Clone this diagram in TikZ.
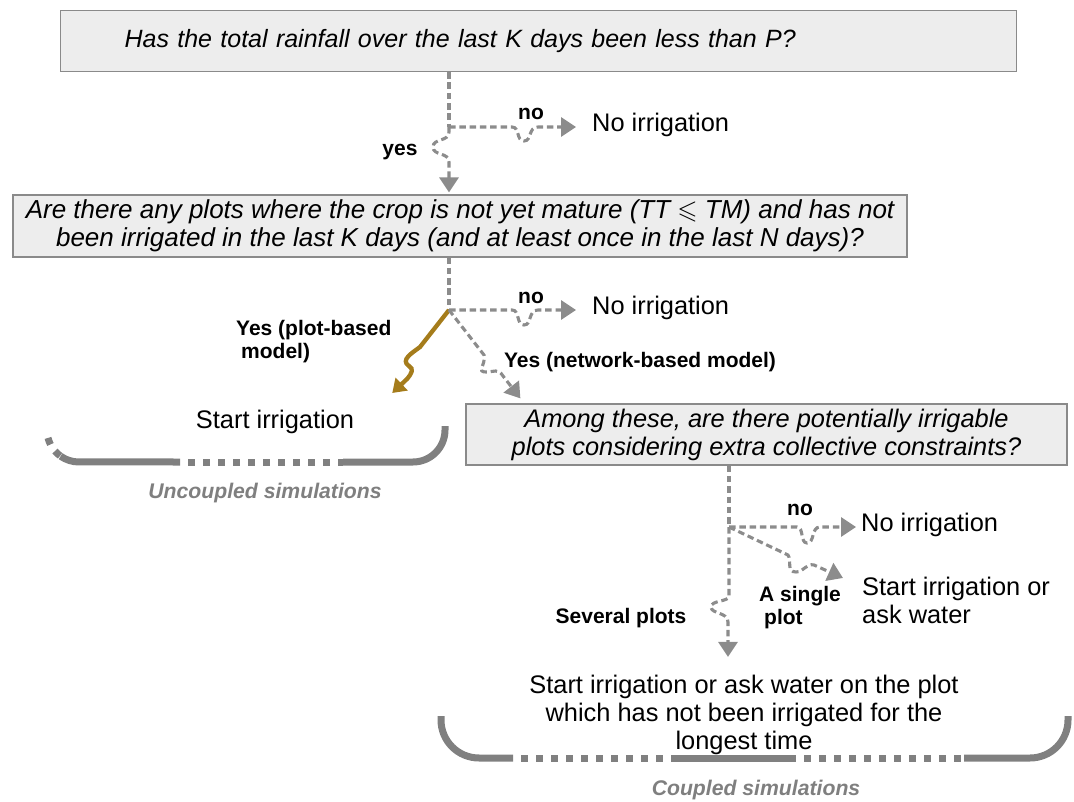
\documentclass[tikz,border=0pt]{standalone}
\usepackage{fontspec}
\setmainfont{Liberation Sans}
\usepackage{amssymb}
\usetikzlibrary{arrows.meta,calc}
\definecolor{boxfill}{HTML}{EDEDED}
\definecolor{boxline}{HTML}{8A8A8A}
\definecolor{conn}{HTML}{8C8C8C}
\definecolor{plotbrown}{HTML}{A57C1B}
\definecolor{brk}{HTML}{808080}
\definecolor{grlabel}{HTML}{7F7F7F}
\begin{document}
\begin{tikzpicture}[x=1pt,y=-1pt,
 question/.style={draw=boxline,fill=boxfill,line width=1.2pt,inner sep=0pt,font=\fontsize{25.4}{28}\selectfont\itshape,align=center},
 plain/.style={inner sep=0pt,font=\fontsize{25.4}{28}\selectfont},
 lbl/.style={inner sep=0pt,font=\fontsize{21}{23}\selectfont\bfseries},
 dline/.style={draw=conn,line width=3.1pt,dash pattern=on 6.5pt off 3.8pt},
 tip/.style={-{Triangle[length=15pt,width=19pt]}},
 solidb/.style={draw=plotbrown,line width=4.3pt},
 brkline/.style={draw=brk,line width=7pt},
 dotbrk/.style={draw=brk,line width=7pt,dash pattern=on 7pt off 8pt,dash phase=7pt},
 grp/.style={inner sep=0pt,font=\fontsize{21.2}{24}\selectfont\bfseries\itshape,text=grlabel}
]
\useasboundingbox (0,0) rectangle (1074,802);

% question boxes
\node[question, anchor=north west, minimum width=956pt, minimum height=61pt, text width=956pt, align=left, font=\fontsize{25}{28}\selectfont\itshape] (q1) at (60,10) {\hspace*{64pt}Has the total rainfall over the last K days been less than P?};
\node[question, minimum width=894pt, minimum height=62pt, font=\fontsize{26}{28}\selectfont\itshape] (q2) at (460,226) {Are there any plots where the crop is not yet mature (TT $\leqslant$ TM) and has not\\been irrigated in the last K days (and at least once in the last N days)?};
\node[question, minimum width=601pt, minimum height=61pt] (q3) at (766.5,434.5) {Among these, are there potentially irrigable\\plots considering extra collective constraints?};

% outcomes
\node[plain, anchor=west] (n1) at (592,125) {No irrigation};
\node[plain, anchor=west] (n2) at (592,308) {No irrigation};
\node[plain, anchor=west] (n3) at (861,525) {No irrigation};
\node[plain] (s1) at (275,422) {Start irrigation};
\node[plain, anchor=west, align=left] (s2) at (862,600) {Start irrigation or\\ask water};
\node[plain, align=center] (s3) at (744,715) {Start irrigation or ask water on the plot\\which has not been irrigated for the\\longest time};

% labels
\node[lbl] (l1) at (531,114) {no};
\node[lbl] (l2) at (400,152) {yes};
\node[lbl] (l3) at (531,298) {no};
\node[lbl, anchor=west, align=left] (l4) at (236,342) {Yes (plot-based\\\hspace*{5pt}model)};
\node[lbl] (l5) at (640,362) {Yes (network-based model)};
\node[lbl] (l6) at (800,510) {no};
\node[lbl, anchor=west, align=left] (l7) at (759,608) {A single\\\hspace*{5pt}plot};
\node[lbl] (l8) at (621,618) {Several plots};
\node[grp] (g1) at (265,493) {Uncoupled simulations};
\node[grp] (g2) at (756,790) {Coupled simulations};

% junctions
\coordinate (j1) at (449,127);
\coordinate (j2) at (449,310);
\coordinate (j3) at (729,527);

% connectors
\draw[dline] (q1.south -| j1) -- (j1);
\draw[dline,tip] (j1) -- (512,127) .. controls (520,127) and (516,141) .. (524,141) .. controls (532,141) and (528,127) .. (538,127) -- ($(n1.west)+(-16,2)$);
\draw[dline,tip] (j1) -- (449,132) .. controls (449,142) and (433,138) .. (433,147) .. controls (433,156) and (449,152) .. (449,162) -- ($(q2.north -| j1)+(0,-2)$);

\draw[dline] (q2.south -| j2) -- (j2);
\draw[dline,tip] (j2) -- (512,310) .. controls (520,310) and (516,325) .. (524,325) .. controls (532,325) and (528,310) .. (538,310) -- ($(n2.west)+(-16,2)$);
\draw[solidb,-{Triangle[length=13pt,width=17pt]}] (j2) -- (420,347) .. controls (412,353) and (400,360) .. (409,366) .. controls (414,369) and (412,373) .. (407,379) -- ($(s1.east)+(38,-29)$);
\draw[dline,tip] (j2) -- (484,355) .. controls (486,365) and (476,372) .. (486,372) .. controls (494,372) and (498,368) .. (503,376) -- ($(q3.north west)+(55,-5)$);

\draw[dline] (q3.south -| j3) -- (j3);
\draw[dline,tip] (j3) -- (797,527) .. controls (804,527) and (800,543) .. (807,543) .. controls (815,543) and (811,527) .. (820,527) -- ($(n3.west)+(-5,2)$);
\draw[dline,tip] (j3) -- (788,555) .. controls (792,561) and (786,572) .. (796,572) .. controls (804,572) and (806,563) .. (814,565) -- ($(s2.west)+(-19,-22)$);
\draw[dline,tip] (j3) -- (729,596) .. controls (729,602) and (711,600) .. (711,607) .. controls (711,614) and (728,612) .. (728,622) -- ($(s3.north -| j3)+(-1,-18)$);

% brackets
\draw[dotbrk] (47,430) arc[start angle=180,end angle=125,radius=32];
\draw[brkline] (60.6,456.2) arc[start angle=125,end angle=90,radius=32] -- (180,462);
\draw[dotbrk] (180,462) -- (343,462);
\draw[brkline] (343,462) -- (413,462) arc[start angle=90,end angle=0,radius=32] -- (445,426);

\draw[brkline] (441,716) -- (441,720) arc[start angle=180,end angle=90,radius=38] -- (513,758);
\draw[dotbrk] (513,758) -- (673,758);
\draw[brkline] (673,758) -- (796,758);
\draw[dotbrk] (796,758) -- (964,758);
\draw[brkline] (964,758) -- (1030,758) arc[start angle=90,end angle=0,radius=38] -- (1068,716);
\end{tikzpicture}
\end{document}
